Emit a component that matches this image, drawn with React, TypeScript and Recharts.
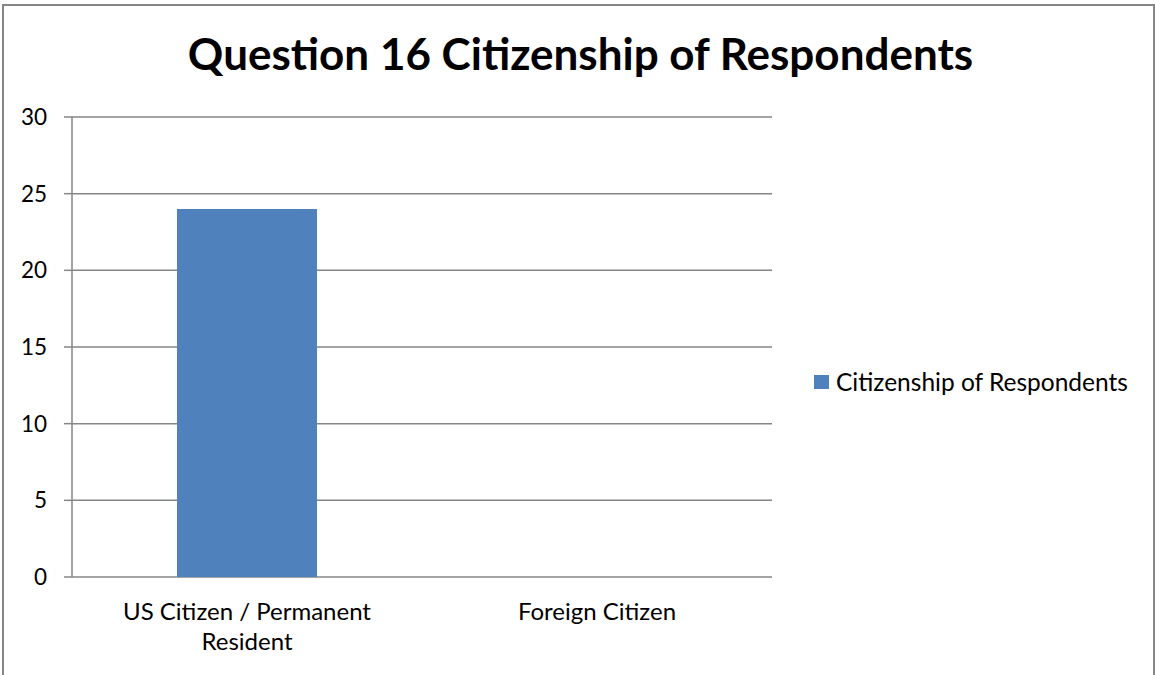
import React from 'react';
import { BarChart, Bar, XAxis, YAxis, CartesianGrid, Legend } from 'recharts';

const categories = ['US Citizen / Permanent Resident', 'Foreign Citizen'];
const categoryLabelLines = [['US Citizen / Permanent', 'Resident'], ['Foreign Citizen']];
const respondents = [24, 0];
const yTicks = [0, 5, 10, 15, 20, 25, 30];
const boundaryTicks = [0, 1, 2];
const seriesName = 'Citizenship of Respondents';
const title = 'Question 16 Citizenship of Respondents';

const data = categories.map((c, i) => ({ category: c, value: respondents[i] }));

const FONT = 'Lato, "Open Sans", sans-serif';
const GRAY = '#868686';
const BLUE = '#4F81BD';
const LEGEND_W = 340;

const CategoryTick = (props: any) => {
  const { x, y, payload } = props;
  const idx = categories.indexOf(payload.value);
  const lines = idx >= 0 ? categoryLabelLines[idx] : [String(payload.value)];
  return (
    <text x={x} y={y} textAnchor="middle" style={{ fontSize: 24, fontFamily: FONT, fill: '#000' }}>
      {lines.map((ln, i) => (
        <tspan key={i} x={x} y={y + 43 + i * 30}>{ln}</tspan>
      ))}
    </text>
  );
};

const LegendContent = () => (
  <div style={{ display: 'flex', alignItems: 'center', fontFamily: FONT, fontSize: 24.5, color: '#000' }}>
    <div style={{ width: 15, height: 14, background: BLUE, marginRight: 7 }} />
    <span>{seriesName}</span>
  </div>
);

export default function App() {
  return (
    <div style={{ position: 'absolute', left: 0, top: 0, width: 1155, height: 675, overflow: 'hidden', background: '#fff' }}>
      <div
        style={{
          position: 'absolute', left: 2, top: 4, width: 1153, height: 720,
          boxSizing: 'border-box', border: `2px solid ${GRAY}`,
        }}
      />
      <div
        style={{
          position: 'absolute', left: 3, top: 31, width: 1155, textAlign: 'center',
          fontFamily: FONT, fontWeight: 700, fontSize: 44, lineHeight: '44px', color: '#000',
        }}
      >
        {title}
      </div>
      <div style={{ position: 'absolute', left: 0, top: 0 }}>
        <BarChart
          width={1155}
          height={675}
          data={data}
          margin={{ top: 117, right: 383 - LEGEND_W, bottom: 0, left: 0 }}
          barCategoryGap="30%"
        >
          <CartesianGrid horizontal vertical={false} stroke={GRAY} strokeWidth={1.5} />
          <XAxis
            xAxisId="ticks"
            type="number"
            domain={[0, 2]}
            ticks={boundaryTicks}
            allowDataOverflow
            tick={false}
            tickSize={8}
            height={0}
            stroke={GRAY}
            axisLine={{ stroke: GRAY, strokeWidth: 1.5 }}
            tickLine={{ stroke: GRAY, strokeWidth: 1.5 }}
          />
          <XAxis
            dataKey="category"
            interval={0}
            tick={<CategoryTick />}
            tickLine={false}
            axisLine={false}
            tickSize={0}
            tickMargin={0}
            height={98}
          />
          <YAxis
            domain={[0, 30]}
            ticks={yTicks}
            width={72}
            tickSize={8}
            tickMargin={17}
            stroke={GRAY}
            axisLine={{ stroke: GRAY, strokeWidth: 1.5 }}
            tickLine={{ stroke: GRAY, strokeWidth: 1.5 }}
            tick={{ fill: '#000', fontSize: 22.5, fontFamily: FONT }}
          />
          <Legend
            layout="horizontal"
            verticalAlign="middle"
            align="right"
            content={<LegendContent />}
            wrapperStyle={{ left: 814, top: 367, width: LEGEND_W }}
          />
          <Bar dataKey="value" name={seriesName} fill={BLUE} isAnimationActive={false} />
        </BarChart>
      </div>
    </div>
  );
}
